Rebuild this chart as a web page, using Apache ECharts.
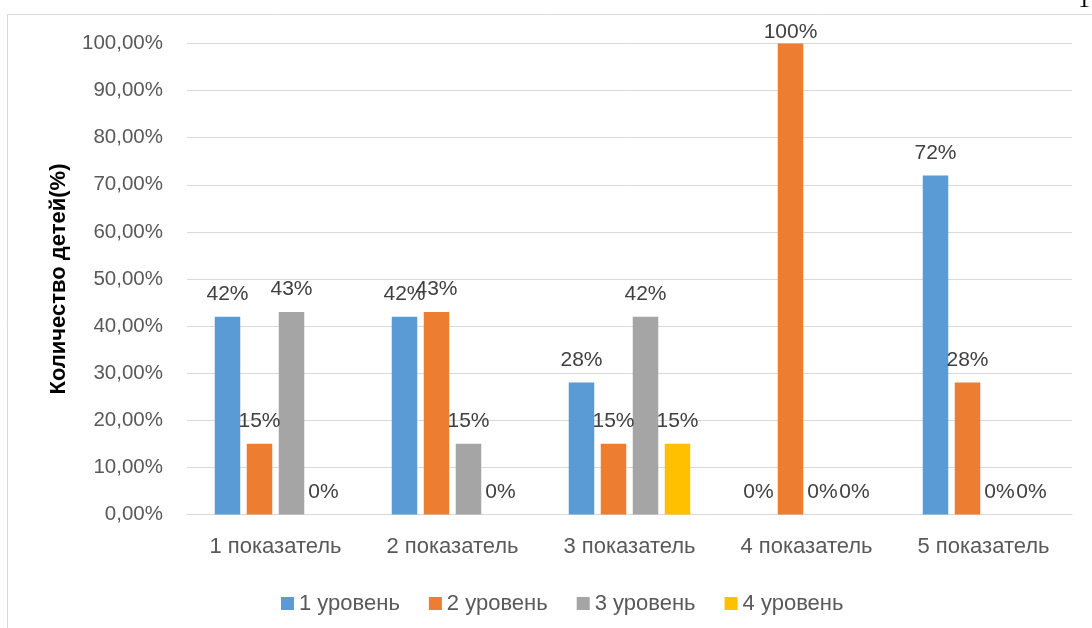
<!DOCTYPE html>
<html>
<head>
<meta charset="utf-8">
<script src="https://cdn.jsdelivr.net/npm/echarts@6/dist/echarts.min.js"></script>
<style>
  html, body { margin: 0; padding: 0; background: #fff; }
  #main { width: 1092px; height: 628px; }
</style>
</head>
<body>
<div id="main"></div>
<script>
// данные диаграммы
var categories = ['1 показатель', '2 показатель', '3 показатель', '4 показатель', '5 показатель'];
var seriesNames = ['1 уровень', '2 уровень', '3 уровень', '4 уровень'];
var level1 = [42, 42, 28, 0, 72];
var level2 = [15, 43, 15, 100, 28];
var level3 = [43, 15, 42, 0, 0];
var level4 = [0, 0, 15, 0, 0];
var yTicks = [0, 10, 20, 30, 40, 50, 60, 70, 80, 90, 100];

var colors = ['#5b9bd5', '#ed7d31', '#a5a5a5', '#ffc000'];
var font = 'Liberation Sans';

var myChart = echarts.init(document.getElementById('main'));

function makeSeries(name, data) {
    return {
        name: name,
        type: 'bar',
        // подпись у верхней границы прижимается к столбику
        data: data.map(function (v) {
            return v >= 100 ? { value: v, label: { distance: 1 } } : v;
        }),
        barWidth: 25.5,
        barGap: '25.5%',
        label: {
            show: true,
            position: 'top',
            distance: 12,
            color: '#404040',
            fontSize: 21,
            fontFamily: font,
            formatter: function (p) { return p.value + '%'; }
        }
    };
}

var option = {
    color: colors,
    textStyle: { fontFamily: font },
    graphic: [
        {
            type: 'rect',
            shape: { x: 7.5, y: 14.5, width: 1200, height: 700 },
            style: { fill: 'none', stroke: '#d9d9d9', lineWidth: 1 },
            silent: true
        },
        {
            type: 'text',
            left: 1078,
            top: -11,
            style: { text: '1', fontSize: 24, fontFamily: 'Liberation Serif', fill: '#000' }
        }
    ],
    grid: { left: 187, right: 20, top: 43.5, bottom: 113.5 },
    legend: {
        data: seriesNames,
        top: 587.5,
        left: 276,
        itemWidth: 13,
        itemHeight: 13,
        itemGap: 29,
        icon: 'rect',
        textStyle: { color: '#595959', fontSize: 22, fontFamily: font }
    },
    xAxis: {
        type: 'category',
        data: categories,
        axisLine: { lineStyle: { color: '#d9d9d9' } },
        axisTick: { show: false },
        axisLabel: { color: '#595959', fontSize: 22, fontFamily: font, margin: 21 }
    },
    yAxis: {
        type: 'value',
        min: yTicks[0],
        max: yTicks[yTicks.length - 1],
        interval: 10,
        name: 'Количество детей(%)',
        nameLocation: 'middle',
        nameGap: 117,
        nameTextStyle: { color: '#000', fontSize: 22, fontWeight: 'bold', fontFamily: font },
        axisLine: { show: false },
        axisTick: { show: false },
        splitLine: { lineStyle: { color: '#d9d9d9' } },
        axisLabel: {
            color: '#595959', fontSize: 20.5, fontFamily: font, margin: 24,
            formatter: function (v) { return v.toFixed(2).replace('.', ',') + '%'; }
        }
    },
    series: [
        makeSeries(seriesNames[0], level1),
        makeSeries(seriesNames[1], level2),
        makeSeries(seriesNames[2], level3),
        makeSeries(seriesNames[3], level4)
    ]
};

myChart.setOption(option);
</script>
</body>
</html>
